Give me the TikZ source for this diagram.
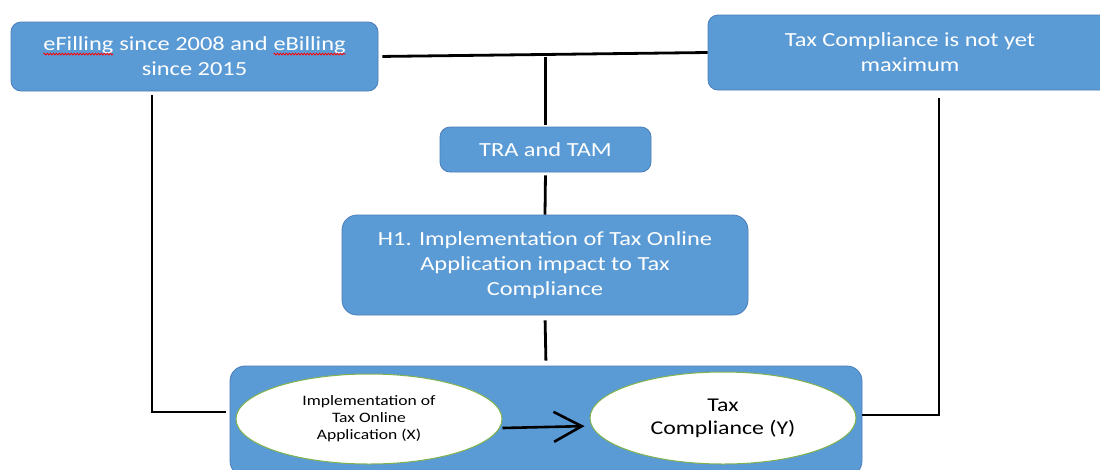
\documentclass[tikz,border=0pt]{standalone}
\usepackage{fontspec}
\setmainfont{Carlito}[FakeStretch=1.22]
\usetikzlibrary{arrows.meta,decorations.pathmorphing,shapes.geometric}
\definecolor{boxblue}{HTML}{5B9BD5}
\definecolor{boxedge}{HTML}{4A7EBB}
\definecolor{ovaledge}{HTML}{7FB24F}
% word with a red spell-check squiggle under it
\newcommand\spellmark[1]{\tikz[baseline=(w.base),x=1cm,y=1cm,sharp corners]{%
  \node[rectangle,draw=none,fill=none,inner sep=0pt,outer sep=0pt,
    minimum width=0pt,minimum height=0pt,text=white](w){#1};%
  \draw[red,line width=0.8pt,decorate,decoration={snake,amplitude=0.9pt,segment length=3pt}]
    ([yshift=-3.2pt]w.base west)--([yshift=-3.2pt]w.base east);}}
\begin{document}
\begin{tikzpicture}[x=1pt,y=-1pt,
  panel/.style={rectangle, rounded corners=10pt, fill=boxblue, draw=boxedge, line width=0.8pt,
    text=white, align=center, inner sep=0pt, font=\fontsize{20}{25}\selectfont},
  oval/.style={ellipse, fill=white, draw=ovaledge, line width=1pt, align=center, inner sep=0pt,
    minimum width=266pt, minimum height=90pt},
  link/.style={line width=2.8pt, black}]
\clip (0,0) rectangle (1100,469);
\fill[white] (0,0) rectangle (1100,469);

% boxes
\node[panel, minimum width=367pt, minimum height=69pt] (A) at (194.5,56.5)
  {\spellmark{eFilling} since 2008 and \spellmark{eBilling}\\since 2015};
\node[panel, minimum width=404pt, minimum height=75pt] (B) at (910,52.5)
  {Tax Compliance is not yet\\maximum};
\node[panel, minimum width=211pt, minimum height=45pt] (T) at (545.5,149.5) {TRA and TAM};
\node[panel, rounded corners=15pt, minimum width=406pt, minimum height=100pt] (H) at (545,265)
  {H1. Implementation of Tax Online\\Application impact to Tax\\Compliance};
\node[panel, rounded corners=15pt, minimum width=632pt, minimum height=110pt] (M) at (546,421) {};

% variables
\node[oval, font=\fontsize{14.4}{17}\selectfont] (X) at (369,419)
  {Implementation of\\Tax Online\\Application (X)};
\node[oval, minimum height=92pt, font=\fontsize{19.5}{23}\selectfont] (Y) at (723,418)
  {Tax\\Compliance (Y)};

% connectors
\coordinate (lx) at (152,412);
\coordinate (rx) at (939,415);
\draw[link, shorten <=4pt] (A.east) -- (B.west);
\draw[link] (T.north |- A.east) -- ([yshift=2pt]T.north);
\draw[link, shorten <=3pt] (T.south) -- (H.north);
\draw[link, shorten <=5pt, shorten >=5pt] (H.south) -- (M.north);
\draw[link, shorten >=4pt] ([yshift=-4pt]A.south -| lx) -- (lx) -- (lx -| M.west);
\draw[link] ([yshift=-8pt]B.south -| rx) -- (rx) -- (rx -| M.east);
\draw[link, line width=2.6pt, shorten >=5pt, -{Straight Barb[length=28pt,width=30pt]}]
  ([yshift=-9pt]X.east) -- ([yshift=-8pt]Y.west);
\end{tikzpicture}
\end{document}
